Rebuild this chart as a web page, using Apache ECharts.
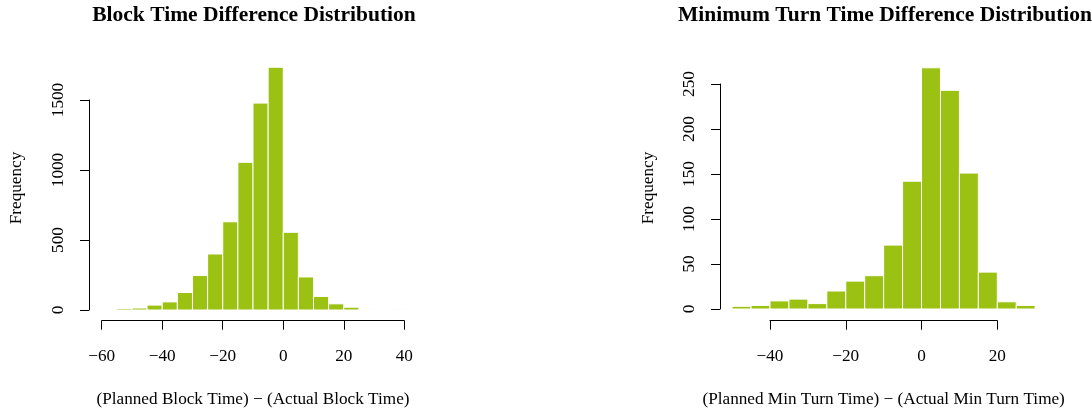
<!DOCTYPE html>
<html>
<head>
<meta charset="utf-8">
<script src="https://cdn.jsdelivr.net/npm/echarts@6/dist/echarts.min.js"></script>
<style>html,body{margin:0;padding:0;background:#fff}#c{width:1092px;height:410px}</style>
</head>
<body>
<div id="c"></div>
<script>
// Left panel: Block Time difference histogram (bin edges, counts)
const blockBinStart = [-55,-50,-45,-40,-35,-30,-25,-20,-15,-10,-5,0,5,10,15,20,25,30,35];
const blockBinEnd   = [-50,-45,-40,-35,-30,-25,-20,-15,-10,-5,0,5,10,15,20,25,30,35,40];
const blockCounts   = [10,14,35,58,125,246,400,630,1055,1478,1734,555,236,97,44,20,3,0,1];
const blockXTicks   = [-60,-40,-20,0,20,40];
const blockYTicks   = [0,500,1000,1500];

// Right panel: Minimum Turn Time difference histogram
const turnBinStart = [-50,-45,-40,-35,-30,-25,-20,-15,-10,-5,0,5,10,15,20,25];
const turnBinEnd   = [-45,-40,-35,-30,-25,-20,-15,-10,-5,0,5,10,15,20,25,30];
const turnCounts   = [3,4,9,11,6,20,31,37,71,142,268,243,151,41,8,4];
const turnXTicks   = [-40,-20,0,20];
const turnYTicks   = [0,50,100,150,200,250];

const titles = ['Block Time Difference Distribution','Minimum Turn Time Difference Distribution'];
const xNames = ['(Planned Block Time) \u2212 (Actual Block Time)','(Planned Min Turn Time) \u2212 (Actual Min Turn Time)'];
const yName = 'Frequency';

const FONT = 'Liberation Serif';
const FS = 17.2;
const BAR = '#9bc112';

function rows(s,e,c){ return s.map((v,i)=>[v,e[i],c[i]]); }

function renderBar(params, api){
  const p0 = api.coord([api.value(0), 0]);
  const p1 = api.coord([api.value(1), api.value(2)]);
  return {
    type:'rect',
    shape:{x:p0[0], y:p1[1], width:p1[0]-p0[0], height:p0[1]-p1[1]},
    style:{fill:BAR, stroke:'#ffffff', lineWidth:1}
  };
}

function xAxisDef(idx, ticks, offset){
  return {
    type:'value', gridIndex:idx, min:ticks[0], max:ticks[ticks.length-1],
    interval:ticks[1]-ticks[0], offset:offset,
    splitLine:{show:false},
    axisLine:{show:true, onZero:false, lineStyle:{color:'#000', width:1}},
    axisTick:{show:true, length:9, lineStyle:{color:'#000'}},
    axisLabel:{color:'#000', fontFamily:FONT, fontSize:FS, margin:27,
      formatter:v=>String(v).replace('-', '\u2212')},
    name:xNames[idx], nameLocation:'middle', nameGap:70,
    nameTextStyle:{color:'#000', fontFamily:FONT, fontSize:FS}
  };
}
function yAxisDef(idx, ticks, offset){
  return {
    type:'value', gridIndex:idx, min:ticks[0], max:ticks[ticks.length-1],
    interval:ticks[1]-ticks[0], offset:offset,
    splitLine:{show:false},
    axisLine:{show:true, onZero:false, lineStyle:{color:'#000', width:1}},
    axisTick:{show:true, length:9, lineStyle:{color:'#000'}},
    axisLabel:{color:'#000', fontFamily:FONT, fontSize:FS, margin:22, rotate:90,
      formatter:v=>String(v)},
    name:''
  };
}

const chart = echarts.init(document.getElementById('c'), null, {renderer:'canvas'});
chart.setOption({
  animation:false,
  backgroundColor:'#fff',
  grid:[
    {left:101.7, width:302.6, top:100, height:210, containLabel:false, outerBoundsMode:'none'},
    {left:770, width:227.3, top:84, height:225, containLabel:false, outerBoundsMode:'none'}
  ],
  xAxis:[ xAxisDef(0, blockXTicks, 10.7), xAxisDef(1, turnXTicks, 11.7) ],
  yAxis:[ yAxisDef(0, blockYTicks, 12.7), yAxisDef(1, turnYTicks, 50) ],
  series:[
    {type:'custom', xAxisIndex:0, yAxisIndex:0, clip:false, renderItem:renderBar,
     encode:{x:[0,1], y:2}, data:rows(blockBinStart, blockBinEnd, blockCounts)},
    {type:'custom', xAxisIndex:1, yAxisIndex:1, clip:false, renderItem:renderBar,
     encode:{x:[0,1], y:2}, data:rows(turnBinStart, turnBinEnd, turnCounts)}
  ],
  graphic:[
    {type:'text', x:254, y:15, style:{text:titles[0], font:'bold 21.5px "Liberation Serif"', fill:'#000', align:'center', verticalAlign:'middle'}},
    {type:'text', x:885, y:15, style:{text:titles[1], font:'bold 21.5px "Liberation Serif"', fill:'#000', align:'center', verticalAlign:'middle'}},
    {type:'text', x:16, y:188, rotation:Math.PI/2, style:{text:yName, font:FS+'px "Liberation Serif"', fill:'#000', align:'center', verticalAlign:'middle'}},
    {type:'text', x:648, y:188, rotation:Math.PI/2, style:{text:yName, font:FS+'px "Liberation Serif"', fill:'#000', align:'center', verticalAlign:'middle'}}
  ]
});
</script>
</body>
</html>
